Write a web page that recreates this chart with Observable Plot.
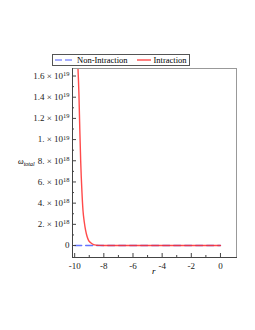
<!DOCTYPE html>
<html>
<head>
<meta charset="utf-8">
<script src="https://cdn.jsdelivr.net/npm/d3@7"></script>
<script src="https://cdn.jsdelivr.net/npm/@observablehq/plot@0.6"></script>
<style>
  html, body { margin: 0; padding: 0; background: white; }
  #wrap { position: relative; width: 255px; height: 330px; font-family: "Liberation Serif", "Times New Roman", serif; }
  #legend { position: absolute; left: 52px; top: 54px; height: 10px; border: 1px solid #555; background: white;
            display: flex; align-items: center; font-size: 8.5px; line-height: 10px; padding: 0 2px 0 2px; white-space: nowrap; }
  #legend svg { display: block; }
  .lab { position: absolute; font-style: italic; white-space: nowrap; }
</style>
</head>
<body>
<div id="wrap">
  <div id="chart"></div>
  <div id="legend"></div>
  <div class="lab" id="ylab" style="left:18px; top:157px; font-size:8px;">ω<span style="font-size:6px; position:relative; top:2px;">total</span></div>
  <div class="lab" id="xlab" style="left:152px; top:266px; font-size:9px;">r</div>
</div>
<script>
// Series: non-interacting (dashed blue) and interacting (red)
const nonR = [-10, -8, -6, -4, -2, 0];
const nonOmega = [0, 0, 0, 0, 0, 0];

const intR = [-9.8, -9.71, -9.65, -9.59, -9.5, -9.43, -9.34, -9.25, -9.15, -9.04, -8.9, -8.7, -8.5, -8.3, -8, -6, -4, -2, 0];
const intOmega = [1.75e19, 1.435e19, 1.1e19, 8.03e18, 5.0e18, 3.3e18, 2.2e18, 1.42e18, 8.5e17, 4.7e17, 2.6e17, 9e16, 3e16, 1e16, 0, 0, 0, 0, 0];

const seriesNames = ["Non-Intraction", "Intraction"];
const seriesColors = ["#4a5cff", "#ff2a2a"];

// Ticks
const xTicks = [-10, -8, -6, -4, -2, 0];
const xTickLabels = ["-10", "-8", "-6", "-4", "-2", "0"];
const xMinor = [-9, -7, -5, -3, -1];
const yTicks = [0, 2e18, 4e18, 6e18, 8e18, 1e19, 1.2e19, 1.4e19, 1.6e19];
const yTickLabels = ["0", "2. × 10^18", "4. × 10^18", "6. × 10^18", "8. × 10^18", "1. × 10^19", "1.2 × 10^19", "1.4 × 10^19", "1.6 × 10^19"];
const yMinor = [1e18, 3e18, 5e18, 7e18, 9e18, 1.1e19, 1.3e19, 1.5e19];

const nonData = nonR.map((r, i) => ({r, w: nonOmega[i]}));
const intData = intR.map((r, i) => ({r, w: intOmega[i]}));

const chart = Plot.plot({
  width: 255,
  height: 330,
  marginLeft: 72,
  marginRight: 19,
  marginTop: 68,
  marginBottom: 73,
  x: {domain: [-10.15, 1.1]},
  y: {domain: [-1.13e18, 1.671e19]},
  style: {fontFamily: "Liberation Serif, Times New Roman, serif", fontSize: "9px", background: "white", color: "#222"},
  marks: [
    Plot.line(nonData, {x: "r", y: "w", stroke: seriesColors[0], strokeWidth: 1.4, strokeDasharray: "7,4", strokeOpacity: 0.85, clip: true}),
    Plot.line(intData, {x: "r", y: "w", stroke: seriesColors[1], strokeWidth: 1.4, strokeOpacity: 0.85, curve: "monotone-x", clip: true}),
    Plot.frame({stroke: "#999"}),
    Plot.frame({anchor: "left", stroke: "#444"}),
    Plot.frame({anchor: "bottom", stroke: "#444"}),
    Plot.axisX({ticks: xTicks, tickSize: 0, tickPadding: 5, tickFormat: d => xTickLabels[xTicks.indexOf(d)], label: null}),
    Plot.axisX({ticks: xTicks, tickSize: -4, tickFormat: () => "", label: null, stroke: "#444"}),
    Plot.axisX({ticks: xMinor, tickSize: -2, tickFormat: () => "", label: null, stroke: "#444"}),
    Plot.axisY({ticks: yTicks, tickSize: 0, tickPadding: 3, tickFormat: d => yTickLabels[yTicks.indexOf(d)], label: null}),
    Plot.axisY({ticks: yTicks, tickSize: -4, tickFormat: () => "", label: null, stroke: "#444"}),
    Plot.axisY({ticks: yMinor, tickSize: -2, tickFormat: () => "", label: null, stroke: "#444"})
  ]
});
document.getElementById("chart").appendChild(chart);

// Turn "a × 10^n" labels into real superscripts
d3.select(chart).selectAll("text").each(function() {
  const txt = this.textContent;
  if (txt.indexOf("^") < 0) return;
  const [base, exp] = txt.split("^");
  const sel = d3.select(this);
  sel.text(null);
  sel.append("tspan").text(base);
  sel.append("tspan").attr("dy", "-0.45em").attr("font-size", "6.5px").text(exp);
});

// Legend
const legend = document.getElementById("legend");
seriesNames.forEach((name, i) => {
  const ns = "http://www.w3.org/2000/svg";
  const w = i === 0 ? 19 : 14;
  const s = document.createElementNS(ns, "svg");
  s.setAttribute("width", w);
  s.setAttribute("height", 8);
  s.style.marginLeft = i === 0 ? "0px" : "9px";
  s.style.marginRight = "3px";
  const l = document.createElementNS(ns, "line");
  l.setAttribute("x1", 0); l.setAttribute("x2", w);
  l.setAttribute("y1", 4); l.setAttribute("y2", 4);
  l.setAttribute("stroke", seriesColors[i]);
  l.setAttribute("stroke-width", 1.2);
  if (i === 0) l.setAttribute("stroke-dasharray", "7,3");
  s.appendChild(l);
  legend.appendChild(s);
  const t = document.createElement("span");
  t.textContent = name;
  legend.appendChild(t);
});
</script>
</body>
</html>
